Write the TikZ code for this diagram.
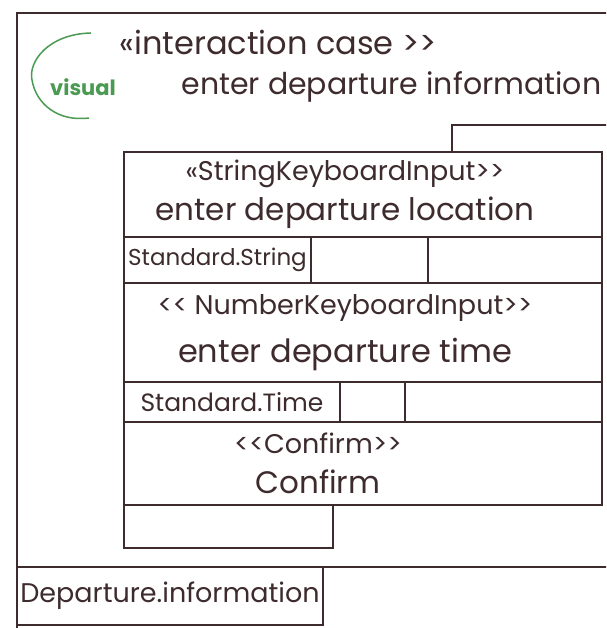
\documentclass[tikz,border=0pt]{standalone}
\usepackage{fontspec}
\setmainfont{Poppins}
\usetikzlibrary{positioning}
\definecolor{ink}{HTML}{3D2B2E}
\definecolor{marker}{HTML}{4A9A52}
\tikzstyle{box} = [rectangle, draw=ink, line width=1.5pt, inner sep=2pt, outer sep=0pt, text=ink, align=center]
\tikzstyle{slot} = [box, minimum height=46pt]
\tikzset{
	title/.style={text=ink, anchor=west, font=\fontsize{30}{36}\selectfont},
	line/.style={draw=ink, line width=1.5pt}
}
\newcommand{\stereotxt}[1]{{\fontsize{27}{32}\selectfont #1}}

\begin{document}
\begin{tikzpicture}[x=1pt, y=-1pt, node distance=0pt]
		
		\fill[white] (0,0) rectangle (606,628);
		\clip (0,0) rectangle (606,628);
		
		% Frame and title
		\node (icase) [box, anchor=north west, minimum width=640pt, minimum height=660pt] at (17,13) {};
		\node (stereo) [title, font=\fontsize{32}{36}\selectfont] at (116,42) {«interaction case >{}>};
		\node (usecase) [title] at (178,87) {enter departure information};
		\node (vis) [text=marker, font=\fontsize{21}{24}\selectfont\bfseries] at (83,87) {visual};
		\draw [draw=marker, line width=1.5pt] (91,33) .. controls (48,34) and (28,62) .. (32,80) .. controls (36,104) and (58,122) .. (89,118);
		
		% Nodes
		\node (strin) [box, anchor=north west, minimum width=478pt, minimum height=85pt] at (124,152)
			{\parbox{438pt}{\centering \stereotxt{«StringKeyboardInput>{}>}\\ \fontsize{31}{40}\selectfont enter departure location}\hspace*{36pt}};
		\node (strtype) [slot, below right=0pt and 0pt of strin.south west, minimum width=187pt, font=\fontsize{23}{26}\selectfont] {Standard.String};
		\node (strslot) [slot, below left=0pt and 0pt of strin.south east, minimum width=174pt] {};
		\node (numin) [box, below right=0pt and 0pt of strtype.south west, minimum width=478pt, minimum height=99pt]
			{\parbox{438pt}{\centering \stereotxt{<{}< NumberKeyboardInput>{}>}\\ \fontsize{32}{48}\selectfont enter departure time}\hspace*{36pt}};
		\node (timetype) [slot, below right=0pt and 0pt of numin.south west, minimum width=216pt, minimum height=40pt, font=\fontsize{25}{28}\selectfont] {Standard.Time};
		\node (timeslot) [slot, below left=0pt and 0pt of numin.south east, minimum width=197pt, minimum height=40pt] {};
		\node (confirm) [box, below right=0pt and 0pt of timetype.south west, minimum width=478pt, minimum height=83pt]
			{\parbox{384pt}{\centering \stereotxt{<{}<Confirm>{}>}\\ \fontsize{31}{40}\selectfont Confirm}\hspace*{90pt}};
		\node (confslot) [box, below right=0pt and 0pt of confirm.south west, minimum width=209pt, minimum height=43pt] {};
		\node (dep) [box, anchor=north west, minimum width=306pt, minimum height=58pt, font=\fontsize{27}{30}\selectfont] at (17,567) {Departure.information};
		
		% Lines
		\coordinate (exit) at (640,125);
		\draw [line] (strin.north -| 452,0) |- (exit);
		\draw [line] (dep.north west) -- (dep.north west -| exit);
		
	\end{tikzpicture}
\end{document}
